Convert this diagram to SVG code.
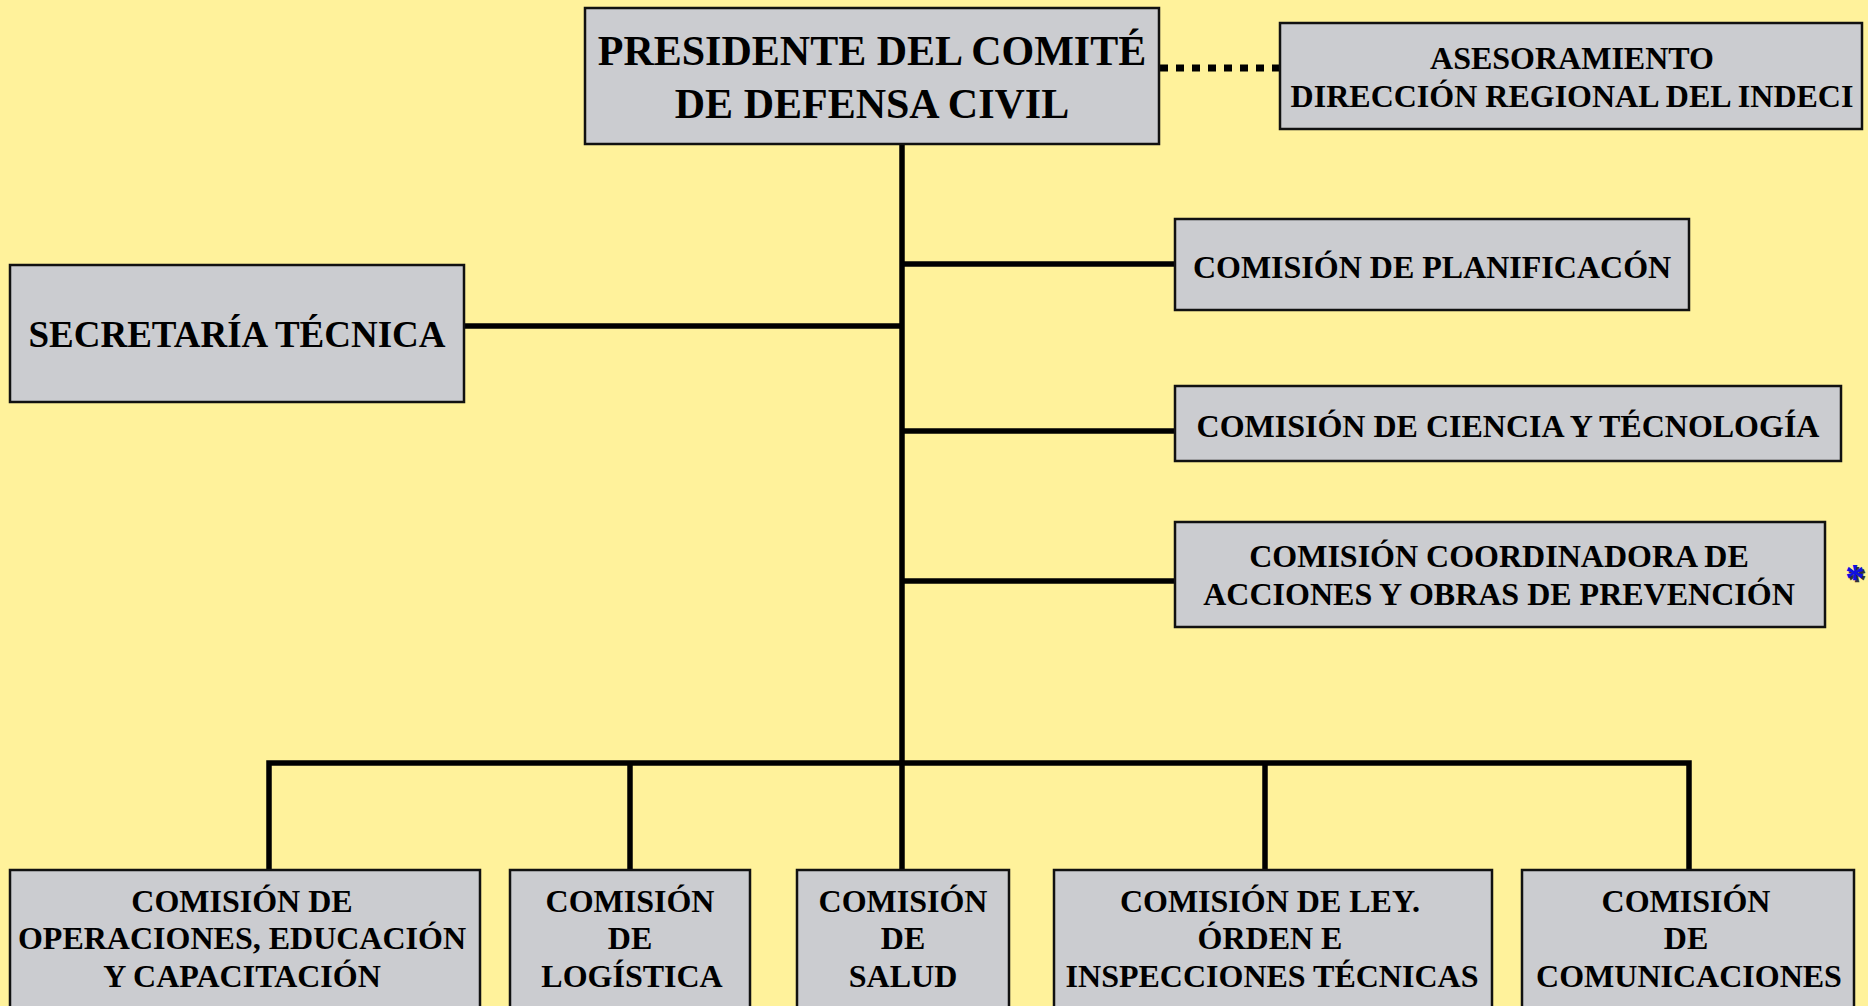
<svg xmlns="http://www.w3.org/2000/svg" width="1868" height="1006" viewBox="0 0 1868 1006">
<style>
.box{fill:#cbccd0;stroke:#111;stroke-width:2.5}
.t{font-family:"Liberation Serif","Times New Roman",serif;font-weight:bold;fill:#000;text-anchor:middle}
.c{fill:none;stroke:#000;stroke-width:5.5;stroke-linejoin:miter;stroke-linecap:butt}
</style>
<rect x="0" y="0" width="1868" height="1006" fill="#fff29b"/>
<g id="connectors">
<line class="c" x1="902" y1="144" x2="902" y2="870"/>
<line class="c" x1="464" y1="326" x2="902" y2="326"/>
<line class="c" x1="902" y1="264" x2="1175" y2="264"/>
<line class="c" x1="902" y1="431" x2="1175" y2="431"/>
<line class="c" x1="902" y1="581" x2="1175" y2="581"/>
<path class="c" d="M269 870 V763 H1689 V870"/>
<line class="c" x1="630" y1="763" x2="630" y2="870"/>
<line class="c" x1="1265" y1="763" x2="1265" y2="870"/>
<line x1="1160" y1="68" x2="1280" y2="68" stroke="#000" stroke-width="7" stroke-dasharray="8 8"/>
</g>
<g id="presidente">
<rect class="box" x="585" y="8" width="574" height="136"/>
<text class="t" x="872" y="65" font-size="42">PRESIDENTE DEL COMITÉ</text>
<text class="t" x="872" y="118" font-size="42">DE DEFENSA CIVIL</text>
</g>
<g id="asesoramiento">
<rect class="box" x="1280" y="23" width="582" height="106"/>
<text class="t" x="1572" y="69" font-size="32">ASESORAMIENTO</text>
<text class="t" x="1572" y="107" font-size="32">DIRECCIÓN REGIONAL DEL INDECI</text>
</g>
<g id="secretaria">
<rect class="box" x="10" y="265" width="454" height="137"/>
<text class="t" x="237" y="347" font-size="37">SECRETARÍA TÉCNICA</text>
</g>
<g id="planificacion">
<rect class="box" x="1175" y="219" width="514" height="91"/>
<text class="t" x="1432" y="278" font-size="32">COMISIÓN DE PLANIFICACÓN</text>
</g>
<g id="ciencia">
<rect class="box" x="1175" y="386" width="666" height="75"/>
<text class="t" x="1508" y="437" font-size="32">COMISIÓN DE CIENCIA Y TÉCNOLOGÍA</text>
</g>
<g id="coordinadora">
<rect class="box" x="1175" y="522" width="650" height="105"/>
<text class="t" x="1499" y="567" font-size="32">COMISIÓN COORDINADORA DE</text>
<text class="t" x="1499" y="605" font-size="32">ACCIONES Y OBRAS DE PREVENCIÓN</text>
</g>
<g id="operaciones">
<rect class="box" x="10" y="870" width="470" height="145"/>
<text class="t" x="242" y="912" font-size="32">COMISIÓN DE</text>
<text class="t" x="242" y="949" font-size="32">OPERACIONES, EDUCACIÓN</text>
<text class="t" x="242" y="987" font-size="32">Y CAPACITACIÓN</text>
</g>
<g id="logistica">
<rect class="box" x="510" y="870" width="240" height="145"/>
<text class="t" x="630" y="912" font-size="32">COMISIÓN</text>
<text class="t" x="630" y="949" font-size="32">DE</text>
<text class="t" x="632" y="987" font-size="32">LOGÍSTICA</text>
</g>
<g id="salud">
<rect class="box" x="797" y="870" width="212" height="145"/>
<text class="t" x="903" y="912" font-size="32">COMISIÓN</text>
<text class="t" x="903" y="949" font-size="32">DE</text>
<text class="t" x="903" y="987" font-size="32">SALUD</text>
</g>
<g id="ley">
<rect class="box" x="1054" y="870" width="438" height="145"/>
<text class="t" x="1270" y="912" font-size="32">COMISIÓN DE LEY.</text>
<text class="t" x="1270" y="949" font-size="32">ÓRDEN E</text>
<text class="t" x="1272" y="987" font-size="32">INSPECCIONES TÉCNICAS</text>
</g>
<g id="comunicaciones">
<rect class="box" x="1522" y="870" width="332" height="145"/>
<text class="t" x="1686" y="912" font-size="32">COMISIÓN</text>
<text class="t" x="1686" y="949" font-size="32">DE</text>
<text class="t" x="1689" y="987" font-size="32">COMUNICACIONES</text>
</g>
<g id="asterisk">
<text x="1847" y="593" font-family="Liberation Serif,serif" font-weight="bold" font-size="40" fill="#333">*</text>
<text x="1845" y="591" font-family="Liberation Serif,serif" font-weight="bold" font-size="40" fill="#1010e0">*</text>
</g>
</svg>
